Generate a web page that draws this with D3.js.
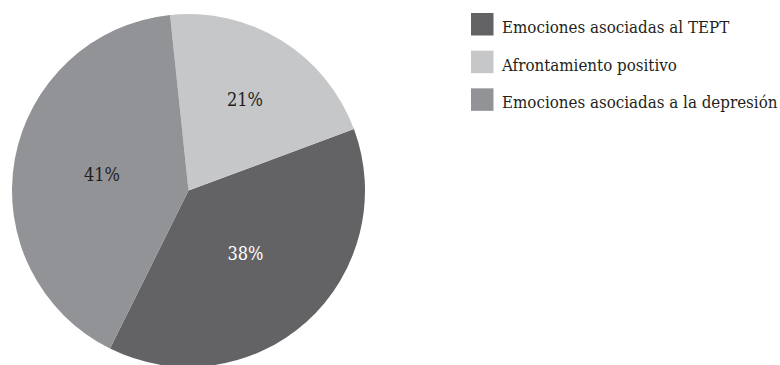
<!DOCTYPE html>
<html>
<head>
<meta charset="utf-8">
<script src="https://cdn.jsdelivr.net/npm/d3@7"></script>
<style>
  html, body { margin: 0; padding: 0; background: #ffffff; }
  svg { display: block; }
</style>
</head>
<body>
<svg id="chart" width="780" height="365"></svg>
<script>
// Categories in legend order, with their shares (%)
const categories = [
  "Emociones asociadas al TEPT",
  "Afrontamiento positivo",
  "Emociones asociadas a la depresión"
];
const values = [38, 21, 41];
const valueLabels = ["38%", "21%", "41%"];

// Order in which the slices run clockwise from the top
const sliceOrder = [1, 0, 2];

// Styling
const fontFamily = "'DejaVu Serif Condensed', 'DejaVu Serif', serif";
const colors = ["#636365", "#c6c7c9", "#929397"];
const labelColors = ["#ffffff", "#231f20", "#231f20"];
const labelRadius = [85, 107, 88];

const width = 780, height = 365;
const cx = 188.5, cy = 190.5, radius = 176.5;

const svg = d3.select("#chart");

const rows = categories.map((c, i) => ({ name: c, value: values[i], label: valueLabels[i], i }));

const pie = d3.pie()
  .value(d => d.value)
  .sort((a, b) => sliceOrder.indexOf(a.i) - sliceOrder.indexOf(b.i))
  .startAngle(-6 * Math.PI / 180)
  .endAngle(354 * Math.PI / 180);

const arc = d3.arc().innerRadius(0).outerRadius(radius);

const g = svg.append("g").attr("transform", `translate(${cx},${cy})`);

const arcs = pie(rows);

g.selectAll("path.slice")
  .data(arcs)
  .join("path")
  .attr("class", "slice")
  .attr("d", arc)
  .attr("fill", d => colors[d.data.i]);

// Percentage labels inside each slice
g.selectAll("text.value")
  .data(arcs)
  .join("text")
  .attr("class", "value")
  .attr("x", d => {
    const a = (d.startAngle + d.endAngle) / 2;
    return Math.sin(a) * labelRadius[d.data.i];
  })
  .attr("y", d => {
    const a = (d.startAngle + d.endAngle) / 2;
    return -Math.cos(a) * labelRadius[d.data.i];
  })
  .attr("dy", "0.35em")
  .attr("text-anchor", "middle")
  .attr("font-family", fontFamily)
  .attr("font-size", 18)
  .attr("fill", d => labelColors[d.data.i])
  .text(d => d.data.label);

// Legend
const legendY = d3.scaleBand()
  .domain(categories)
  .range([13, 126])
  .paddingInner(0);

const legend = svg.append("g").attr("transform", "translate(471,0)");

const item = legend.selectAll("g.item")
  .data(rows)
  .join("g")
  .attr("class", "item")
  .attr("transform", d => `translate(0,${legendY(d.name)})`);

item.append("rect")
  .attr("width", 22.5)
  .attr("height", 22.5)
  .attr("fill", d => colors[d.i]);

item.append("text")
  .attr("x", 31)
  .attr("y", 20)
  .attr("font-family", fontFamily)
  .attr("font-size", 16.8)
  .attr("fill", "#231f20")
  .text(d => d.name);
</script>
</body>
</html>
